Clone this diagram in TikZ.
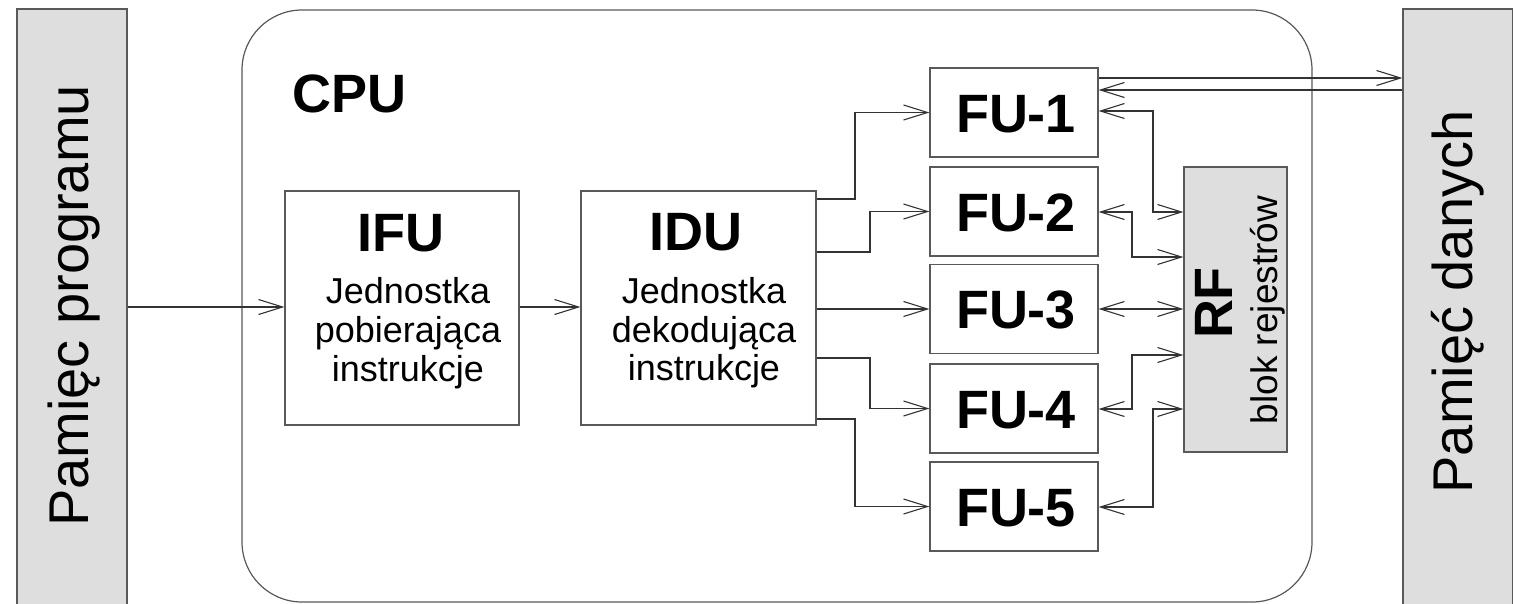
\documentclass[tikz,border=0pt]{standalone}
\usepackage{fontspec}
\setmainfont{Liberation Sans}
\usetikzlibrary{arrows.meta}
\begin{document}
\begin{tikzpicture}[x=1pt,y=-1pt,
  ln/.style={line width=1.1pt, draw=black!80},
  tip/.tip={Straight Barb[length=24pt,width=15pt,line width=1.1pt]},
  arr/.style={ln, -tip},
  barr/.style={ln, tip-tip},
  box/.style={draw=black!65, line width=1.2pt, inner sep=0pt, rectangle, fill=white},
  mem/.style={box, fill=black!13},
  big/.style={font=\fontsize{54}{60}\selectfont\bfseries, inner sep=0pt},
  desc/.style={font=\fontsize{36}{40}\selectfont, inner sep=0pt},
  memtxt/.style={font=\fontsize{56}{60}\selectfont, inner sep=0pt, rotate=90, anchor=base},
]
\useasboundingbox (0,0) rectangle (1513,603);
\clip (0,0) rectangle (1513,603);
% memories
\node[mem, minimum width=110pt, minimum height=611pt] (pmem) at (72,314.5) {};
\node[mem, minimum width=110pt, minimum height=611pt] (dmem) at (1458,314.5) {};
\node[memtxt] (pmemt) at (88,306) {Pamięc programu};
\node[memtxt] (dmemt) at (1472,302) {Pamięć danych};
% CPU
\node[box, rounded corners=60pt, minimum width=1070pt, minimum height=592pt] (cpu) at (777,306) {};
\node[big, anchor=base west] (cput) at (292,112) {CPU};
% IFU / IDU
\node[box, minimum width=234pt, minimum height=234pt] (ifu) at (402,308) {};
\node[box, minimum width=235pt, minimum height=234pt] (idu) at (698.5,308) {};
\node[big, anchor=base] (ifut) at (401,251) {IFU};
\node[desc, anchor=base] (ifu1) at (408,303) {Jednostka};
\node[desc, anchor=base] (ifu2) at (408,342) {pobierająca};
\node[desc, anchor=base] (ifu3) at (408,381) {instrukcje};
\node[big, anchor=base] (idut) at (696,250) {IDU};
\node[desc, anchor=base] (idu1) at (704,303) {Jednostka};
\node[desc, anchor=base] (idu2) at (704,342) {dekodująca};
\node[desc, anchor=base] (idu3) at (704,380) {instrukcje};
% FUs
\foreach \i/\y in {1/112.5,2/211.5,3/309,4/408.5,5/506.5}{
  \node[box, minimum width=168pt, minimum height=89pt] (fu\i) at (1014,\y) {};
  \node[big, anchor=base] (fu\i t) at (1016,\y+19.5) {FU-\i};
}
% RF
\node[mem, minimum width=103pt, minimum height=285pt] (rf) at (1235.5,309.5) {};
\node[big, rotate=90, anchor=base] (rft) at (1232,303) {RF};
\node[desc, rotate=90, anchor=base, font=\fontsize{37}{40}\selectfont] (rfd) at (1277,310) {blok rejestrów};
% connectors
\draw[arr] (pmem.east |- 0,307) -- (ifu.west |- 0,307);
\draw[arr] (ifu.east |- 0,307) -- (idu.west |- 0,307);
\draw[arr] (idu.east |- 0,199) -- (855,199) |- (fu1.west);
\draw[arr] (idu.east |- 0,252) -- (870,252) |- (fu2.west);
\draw[arr] (idu.east |- 0,309) -- (fu3.west);
\draw[arr] (idu.east |- 0,358) -- (870,358) |- (fu4.west);
\draw[arr] (idu.east |- 0,419) -- (855,419) |- (fu5.west);
\draw[arr] (fu1.east |- 0,78) -- (dmem.west |- 0,78);
\draw[arr] (dmem.west |- 0,90) -- (fu1.east |- 0,90);
\draw[barr] (fu1.east |- 0,111) -- (1153,111) |- (rf.west |- 0,212);
\draw[barr] (fu2.east |- 0,212) -- (1132,212) |- (rf.west |- 0,257);
\draw[barr] (fu3.east |- 0,309) -- (rf.west |- 0,309);
\draw[barr] (fu4.east |- 0,409) -- (1132,409) |- (rf.west |- 0,355);
\draw[barr] (fu5.east |- 0,507) -- (1153,507) |- (rf.west |- 0,409);
\end{tikzpicture}
\end{document}
